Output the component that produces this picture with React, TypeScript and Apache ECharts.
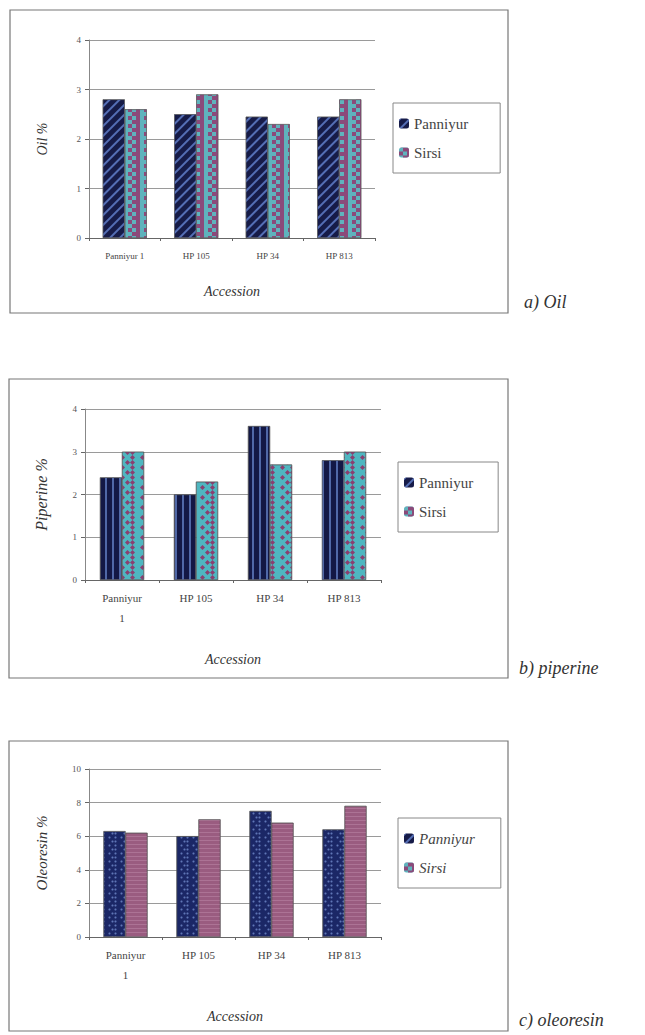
import React, { useEffect, useRef } from "react";
import * as echarts from "echarts";

const categories = ["Panniyur 1", "HP 105", "HP 34", "HP 813"];
const seriesNames = ["Panniyur", "Sirsi"];

const oilPanniyur = [2.8, 2.5, 2.45, 2.45];
const oilSirsi = [2.6, 2.9, 2.3, 2.8];

const piperinePanniyur = [2.4, 2.0, 3.6, 2.8];
const piperineSirsi = [3.0, 2.3, 2.7, 3.0];

const oleoresinPanniyur = [6.3, 6.0, 7.5, 6.4];
const oleoresinSirsi = [6.2, 7.0, 6.8, 7.8];

const SERIF = "Liberation Serif";

export default function App() {
  const ref = useRef<HTMLDivElement>(null);

  useEffect(() => {
    if (!ref.current) return;
    const chart = echarts.init(ref.current, undefined, { renderer: "svg" });

    const grids = [
      { left: 89, top: 40, width: 286, height: 198 },
      { left: 85, top: 409, width: 296, height: 171 },
      { left: 89, top: 769, width: 292, height: 168 },
    ];

    const yMax = [4, 4, 10];
    const yInt = [1, 1, 2];
    const yNames = ["Oil %", "Piperine %", "Oleoresin %"];
    const yNameSize = [14, 16, 15];
    const yNameGap = [40, 36, 40];
    const xNameGap = [46, 72, 72];

    const xAxis = grids.map((g, i) => ({
      type: "category",
      gridIndex: i,
      data: categories,
      name: "Accession",
      nameLocation: "middle",
      nameGap: xNameGap[i],
      nameTextStyle: {
        fontFamily: SERIF,
        fontStyle: "italic",
        fontSize: 14,
        color: "#333",
      },
      axisLine: { show: true, lineStyle: { color: "#666", width: 1 } },
      axisTick: { show: true, alignWithLabel: false, length: 3, lineStyle: { color: "#666" } },
      axisLabel: {
        fontFamily: SERIF,
        fontSize: i === 0 ? 9 : 11,
        color: "#444",
        margin: 8,
        interval: 0,
        lineHeight: 20,
        formatter: (v: string) => (i > 0 && v === "Panniyur 1" ? "Panniyur\n1" : v),
      },
    }));

    const yAxis = grids.map((g, i) => ({
      type: "value",
      gridIndex: i,
      min: 0,
      max: yMax[i],
      interval: yInt[i],
      name: yNames[i],
      nameLocation: "middle",
      nameGap: yNameGap[i],
      nameTextStyle: {
        fontFamily: SERIF,
        fontStyle: "italic",
        fontSize: yNameSize[i],
        color: "#333",
      },
      axisLine: { show: true, lineStyle: { color: "#888", width: 1 } },
      axisTick: { show: true, length: 4, lineStyle: { color: "#666" } },
      axisLabel: { fontFamily: SERIF, fontSize: 9, color: "#555", margin: 8 },
      splitLine: { show: true, lineStyle: { color: "#9a9a9a", width: 1 } },
    }));

    const styles = [
      [
        {
          color: "#161b48",
          decal: {
            symbol: "rect",
            color: "rgba(95,125,200,0.85)",
            dashArrayX: [1, 0],
            dashArrayY: [2, 5],
            rotation: -Math.PI / 4,
          },
        },
        {
          color: "#5fb3bd",
          decal: {
            symbol: "rect",
            color: "#8b4a7a",
            dashArrayX: [[4, 4], [0, 4, 4]],
            dashArrayY: [4, 0],
            rotation: 0,
          },
        },
      ],
      [
        {
          color: "#131845",
          decal: {
            symbol: "rect",
            color: "rgba(100,130,200,0.75)",
            dashArrayX: [2, 5],
            dashArrayY: [1, 0],
            rotation: 0,
          },
        },
        {
          color: "#4fb6c0",
          decal: {
            symbol: "diamond",
            symbolSize: 1,
            color: "#8a3f70",
            dashArrayX: [[5, 5], [0, 5, 5]],
            dashArrayY: [5, 0],
            rotation: 0,
          },
        },
      ],
      [
        {
          color: "#1b2766",
          decal: {
            symbol: "circle",
            symbolSize: 0.7,
            color: "rgba(140,170,235,0.6)",
            dashArrayX: [[3, 3], [0, 3, 3]],
            dashArrayY: [3, 1],
            rotation: 0,
          },
        },
        {
          color: "#9a5c80",
          decal: {
            symbol: "rect",
            color: "rgba(200,150,180,0.4)",
            dashArrayX: [1, 0],
            dashArrayY: [1, 3],
            rotation: 0,
          },
        },
      ],
    ];

    const data = [
      [oilPanniyur, oilSirsi],
      [piperinePanniyur, piperineSirsi],
      [oleoresinPanniyur, oleoresinSirsi],
    ];

    const series: any[] = [];
    data.forEach((pair, gi) => {
      pair.forEach((vals, si) => {
        series.push({
          type: "bar",
          name: seriesNames[si],
          xAxisIndex: gi,
          yAxisIndex: gi,
          data: vals,
          barWidth: 22,
          barGap: "0%",
          itemStyle: {
            ...styles[gi][si],
            borderColor: "#555",
            borderWidth: 0.5,
          },
        });
      });
    });

    const legendPos = [
      { left: 393, top: 103, padR: 32 },
      { left: 398, top: 462, padR: 25 },
      { left: 398, top: 818, padR: 26 },
    ];

    const legend = legendPos.map((p, i) => ({
      left: p.left,
      top: p.top,
      orient: "vertical",
      data: seriesNames,
      itemWidth: 10,
      itemHeight: 10,
      itemGap: 14,
      itemStyle: { borderWidth: 0 },
      padding: [13, p.padR, 13, 6],
      borderColor: "#888",
      borderWidth: 1,
      backgroundColor: "#fff",
      selectedMode: false,
      textStyle: {
        fontFamily: SERIF,
        fontSize: 15,
        color: "#444",
        fontStyle: i === 2 ? "italic" : "normal",
      },
    }));

    const frames = [
      { x: 10, y: 10, w: 498, h: 303 },
      { x: 9, y: 379, w: 499, h: 299 },
      { x: 9, y: 741, w: 499, h: 290 },
    ];

    const graphic: any[] = frames.map((f) => ({
      type: "rect",
      shape: { x: f.x, y: f.y, width: f.w, height: f.h },
      style: { fill: "none", stroke: "#777", lineWidth: 1.2 },
      silent: true,
    }));

    const captions = [
      { text: "a) Oil", x: 524, y: 302 },
      { text: "b) piperine", x: 519, y: 668 },
      { text: "c) oleoresin", x: 519, y: 1020 },
    ];
    captions.forEach((c) =>
      graphic.push({
        type: "text",
        x: c.x,
        y: c.y,
        style: {
          text: c.text,
          fontFamily: SERIF,
          fontStyle: "italic",
          fontSize: 18,
          fill: "#333",
          verticalAlign: "middle",
          textAlign: "left",
        },
      })
    );

    chart.setOption({
      animation: false,
      backgroundColor: "#fff",
      grid: grids,
      xAxis,
      yAxis,
      series,
      legend,
      graphic,
    });

    return () => chart.dispose();
  }, []);

  return (
    <div
      ref={ref}
      style={{ position: "fixed", left: 0, top: 0, width: 645, height: 1035, background: "#fff" }}
    />
  );
}
